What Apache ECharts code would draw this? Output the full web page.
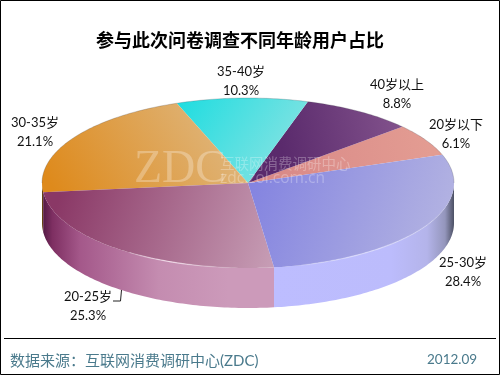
<!DOCTYPE html>
<html><head><meta charset="utf-8">
<style>html,body{margin:0;padding:0;background:#fff}#c{width:500px;height:375px}</style>
<script src="https://cdn.jsdelivr.net/npm/echarts@6/dist/echarts.min.js"></script>
</head><body><div id="c"></div>
<script>
var categories = ['20岁以下','40岁以上','35-40岁','30-35岁','20-25岁','25-30岁'];
var values = [6.1,8.8,10.3,21.1,25.3,28.4];
var titleText = '参与此次问卷调查不同年龄用户占比';
var sourceText = '数据来源：互联网消费调研中心(ZDC)';
var dateText = '2012.09';

// layout and styling only
var CX=248, CY=183, RX=206, RY=85, DEPTH=40, START=19.5;
var FONT = 'Lato, "Noto Sans CJK SC", sans-serif';
var CJK = '"Noto Sans CJK SC", sans-serif';
var labelAt = [[456,134],[397,94],[241,81],[35,132],[88,306],[463,272]];
var faces = [
 [280,170,430,150,'#D98A88','#E39C92'],
 [280,140,400,120,'#5A2A6C','#82528C'],
 [180,100,280,170,'#20DDE0','#80E2E2'],
 [60,200,210,110,'#DE8A1C','#DFB478'],
 [60,195,270,265,'#8A3866','#C69CB4'],
 [250,190,440,260,'#8484E0','#B4B4E2']
];
var walls = [
 null,null,null,
 [[0,'#4A3010'],[1,'#8A5A14']],
 [[0,'#551A45'],[0.04,'#7E2F62'],[0.16,'#A4588A'],[0.5,'#C48CB0'],[0.8,'#CC9ABA'],[1,'#CC9ABA']],
 [[0,'#BDBDFF'],[0.65,'#BCBCFC'],[0.85,'#B4B4EA'],[0.95,'#9496BC'],[1,'#4C5064']]
];
var total = values.reduce(function(a,b){return a+b;},0);
function pt(t,dy){var r=t*Math.PI/180;return [CX+RX*Math.cos(r),CY-RY*Math.sin(r)+(dy||0)];}
function grad(x1,y1,x2,y2,stops){
  return new echarts.graphic.LinearGradient(x1,y1,x2,y2,stops.map(function(s){return {offset:s[0],color:s[1]};}),true);
}
function arc(a,b,dy){var p=[],n=Math.max(2,Math.ceil(Math.abs(b-a)));for(var i=0;i<=n;i++)p.push(pt(a+(b-a)*i/n,dy));return p;}

function renderItem(params,api){
  var i=params.dataIndex, v=api.value(0), before=0;
  for(var k=0;k<i;k++)before+=values[k];
  var a=START+before/total*360, b=a+v/total*360, ch=[];
  // visible wall: lower half of the ellipse
  var lo=Math.max(a,180), hi=Math.min(b,360);
  if(walls[i] && hi>lo){
    var top=arc(lo,hi,0), bot=arc(hi,lo,DEPTH);
    var xs=top.map(function(p){return p[0];});
    ch.push({type:'polygon',shape:{points:top.concat(bot)},
      style:{fill:grad(Math.min.apply(0,xs),0,Math.max.apply(0,xs),0,walls[i])}});
  }
  var f=faces[i];
  ch.push({type:'polygon',shape:{points:[[CX,CY]].concat(arc(a,b,0))},
    style:{fill:grad(f[0],f[1],f[2],f[3],[[0,f[4]],[1,f[5]]])}});
  ch.push({type:'text',z2:20,style:{text:categories[i]+'\n'+v.toFixed(1)+'%',x:labelAt[i][0],y:labelAt[i][1],
    textAlign:'center',textVerticalAlign:'middle',fontFamily:FONT,fontSize:13,lineHeight:19,fill:'#111'}});
  return {type:'group',children:ch};
}

var chart=echarts.init(document.getElementById('c'),null,{renderer:'canvas'});
chart.setOption({
  animation:false,
  backgroundColor:'#fff',
  series:[{type:'custom',coordinateSystem:'none',renderItem:renderItem,silent:true,
    data:values.map(function(v){return [v];})}],
  graphic:[
    {type:'rect',z:1,shape:{x:0.5,y:0.5,width:499,height:374},style:{fill:'none',stroke:'#000',lineWidth:1}},
    {type:'polyline',z:5,shape:{points:arc(0,180,0)},style:{fill:'none',stroke:'rgba(70,70,80,0.3)',lineWidth:0.8}},
    {type:'polyline',z:5,shape:{points:arc(235,300,0)},style:{fill:'none',lineWidth:1.2,
      stroke:grad(115,0,230,0,[[0,'rgba(255,255,255,0)'],[0.45,'rgba(255,240,250,0.75)'],[1,'rgba(255,255,255,0)']])}},
    {type:'polyline',z:5,shape:{points:arc(285,358,0)},style:{fill:'none',lineWidth:1.2,
      stroke:grad(280,0,450,0,[[0,'rgba(255,255,255,0)'],[0.5,'rgba(225,225,255,0.7)'],[1,'rgba(255,255,255,0)']])}},
    {type:'text',z:6,style:{text:'ZDC',x:134,y:170,textVerticalAlign:'middle',fontFamily:'"Liberation Serif",serif',fontSize:46,fill:'rgba(255,255,255,0.28)'}},
    {type:'text',z:6,style:{text:'互联网消费调研中心',x:220,y:163,textVerticalAlign:'middle',fontFamily:CJK,fontSize:14.5,fill:'rgba(255,255,255,0.28)'}},
    {type:'text',z:6,style:{text:'zdc.zol.com.cn',x:220,y:179,textVerticalAlign:'middle',fontFamily:'"Open Sans",sans-serif',fontSize:15.5,fill:'rgba(255,255,255,0.28)'}},
    {type:'polyline',z:7,shape:{points:[[113,301],[120.5,301],[121.5,290]]},style:{fill:'none',stroke:'#222',lineWidth:1}},
    {type:'text',z:7,style:{text:titleText,x:240,y:40,textAlign:'center',textVerticalAlign:'middle',fontFamily:CJK,fontWeight:'bold',fontSize:18,fill:'#000'}},
    {type:'line',z:7,shape:{x1:4,y1:338.5,x2:496,y2:338.5},style:{stroke:'#000',lineWidth:1}},
    {type:'text',z:7,style:{text:sourceText,x:10,y:361,textVerticalAlign:'middle',fontFamily:FONT,fontSize:15,fill:'#4A7A8C'}},
    {type:'text',z:7,style:{text:dateText,x:427,y:360,textVerticalAlign:'middle',fontFamily:FONT,fontSize:13.5,fill:'#4A7A8C'}}
  ]
});
</script></body></html>
